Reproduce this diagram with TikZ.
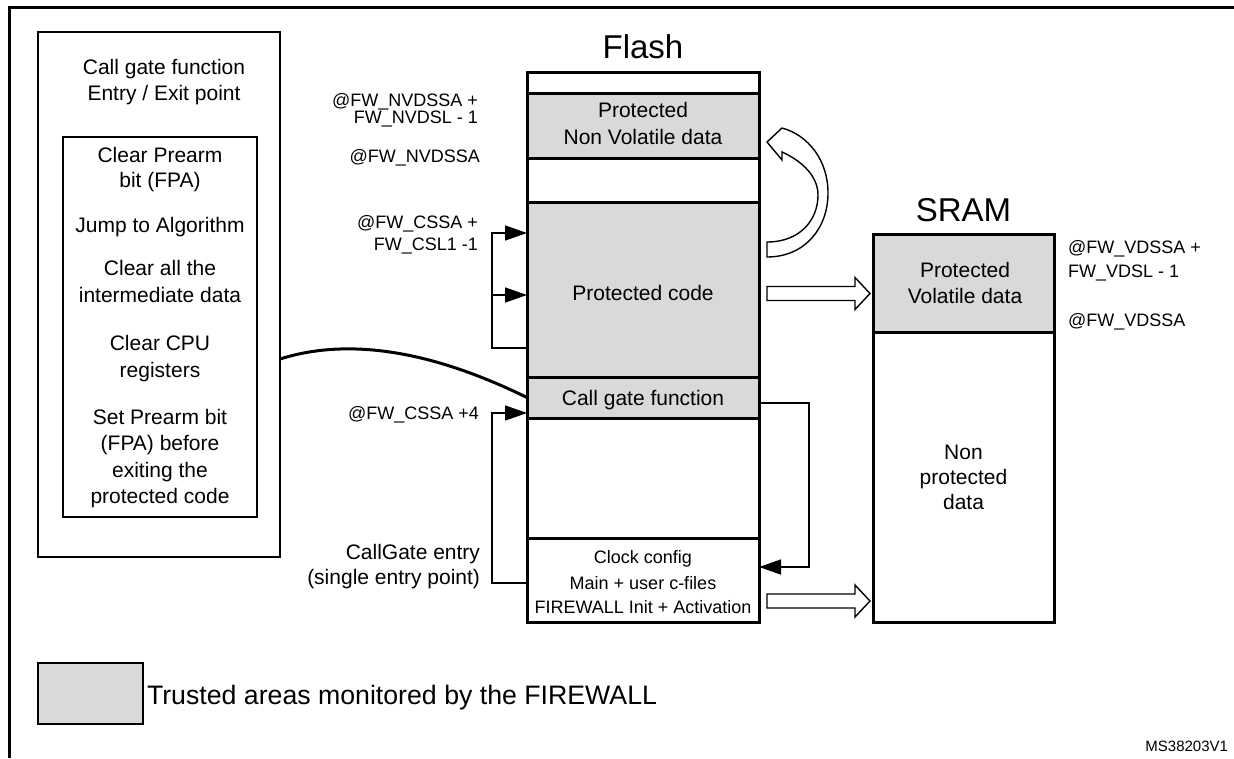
\documentclass[tikz,border=0pt]{standalone}
\usepackage{fontspec}
\setmainfont{Liberation Sans}
\usetikzlibrary{arrows.meta}

\definecolor{trust}{RGB}{217,217,217}

\begin{document}
\begin{tikzpicture}[x=1pt,y=-1pt,
  every node/.style={inner sep=0pt, outer sep=0pt},
  frame/.style={line width=3pt, line join=miter},
  fcell/.style={draw, line width=3pt, minimum width=232pt},
  scell/.style={draw, line width=3pt, minimum width=181pt},
  tr/.style={fill=trust},
  big/.style={anchor=base, font=\fontsize{33}{33}\selectfont},
  txt/.style={anchor=base, font=\fontsize{21}{21}\selectfont},
  small/.style={anchor=base, font=\fontsize{18}{18}\selectfont},
  addr/.style={anchor=base east, font=\fontsize{18}{18}\selectfont},
  addrl/.style={anchor=base west, font=\fontsize{18}{18}\selectfont},
  entry/.style={anchor=base east, font=\fontsize{21}{21}\selectfont},
  conn/.style={line width=1.5pt, -{Triangle[length=22pt,width=15pt]}},
  hollow/.style={draw, fill=white, line width=1.4pt, line join=miter},
  blockarrow/.pic={\path[hollow] (0,-7) -- (88,-7) -- (88,-16) -- (103,0)
      -- (88,16) -- (88,7) -- (0,7) -- cycle;}
]
\useasboundingbox (0,0) rectangle (1234,758);

% page frame (left and top rules)
\draw[frame] (9,758) -- (9,7.5) -- (1234,7.5);

% ---------- call gate description ----------
\node[draw, line width=2pt, minimum width=242pt, minimum height=525pt] (lbox) at (159,294.5) {};
\node[draw, line width=1.3pt, minimum width=194pt, minimum height=380pt] (ibox) at (160,327) {};
\node[txt] (lb1) at (164,74.5) {Call gate function};
\node[txt] (lb2) at (164,100.5) {Entry / Exit point};
\node[txt] (st1a) at (160,162.5) {Clear Prearm};
\node[txt] (st1b) at (160,187.5) {bit (FPA)};
\node[txt] (st2)  at (160,232.5) {Jump to Algorithm};
\node[txt] (st3a) at (160,275.5) {Clear all the};
\node[txt] (st3b) at (160,302.5) {intermediate data};
\node[txt] (st4a) at (160,350.5) {Clear CPU};
\node[txt] (st4b) at (160,377.5) {registers};
\node[txt] (st5a) at (160,424.5) {Set Prearm bit};
\node[txt] (st5b) at (160,450.5) {(FPA) before};
\node[txt] (st5c) at (160,477.5) {exiting the};
\node[txt] (st5d) at (160,503.5) {protected code};

% ---------- Flash ----------
\node[big] (ftitle) at (643,58) {Flash};
\node[fcell, minimum height=21pt]  (ftop)  at (643,82.5) {};
\node[fcell, tr, minimum height=65pt]  (nvd)   at (643,125.5) {};
\node[fcell, minimum height=44pt]  (fgap1) at (643,180) {};
\node[fcell, tr, minimum height=175pt] (pcode) at (643,289.5) {};
\node[fcell, tr, minimum height=41pt]  (cgf)   at (643,397.5) {};
\node[fcell, minimum height=120pt] (fgap2) at (643,478) {};
\node[fcell, minimum height=84pt]  (clk)   at (643,580) {};

\node[txt] (nvd1) at (643,117.5) {Protected};
\node[txt] (nvd2) at (643,144.5) {Non Volatile data};
\node[txt] (pc1)  at (643,300.5) {Protected code};
\node[txt] (cg1)  at (643,405.5) {Call gate function};
\node[small] (ck1) at (643,563.4) {Clock config};
\node[small] (ck2) at (643,589.4) {Main + user c-files};
\node[small] (ck3) at (643,613.4) {FIREWALL Init + Activation};

% address labels of the Flash
\node[addr] (a1) at (478,106) {@FW\_NVDSSA +};
\node[addr] (a2) at (478,123.5) {FW\_NVDSL - 1};
\node[addr] (a3) at (480,162) {@FW\_NVDSSA};
\node[addr] (a4) at (478,228.5) {@FW\_CSSA +};
\node[addr] (a5) at (478,250.5) {FW\_CSL1 -1};
\node[addr] (a6) at (479,419.4) {@FW\_CSSA +4};
\node[entry] (e1) at (480,559.4) {CallGate entry};
\node[entry] (e2) at (480,584.4) {(single entry point)};

% ---------- SRAM ----------
\node[big] (stitle) at (963.5,221) {SRAM};
\node[scell, tr, minimum height=98pt]  (pvd) at (963.5,283) {};
\node[scell, minimum height=290pt] (npd) at (963.5,477) {};
\node[txt] (pv1) at (965,277.5) {Protected};
\node[txt] (pv2) at (965,303.5) {Volatile data};
\node[txt] (np1) at (963.5,459.5) {Non};
\node[txt] (np2) at (963.5,484.5) {protected};
\node[txt] (np3) at (963.5,509.5) {data};
\node[addrl] (s1) at (1068,253.4) {@FW\_VDSSA +};
\node[addrl] (s2) at (1068,277.4) {FW\_VDSL - 1};
\node[addrl] (s3) at (1068,326.4) {@FW\_VDSSA};

% ---------- connectors ----------
% jumps inside the protected code
\coordinate (k1) at (492,348);
\coordinate (k2) at (492,233);
\coordinate (k3) at (492,295);
\draw[conn] (k1 -| pcode.west) -- (k1) -- (k2) -- (k2 -| pcode.west);
\draw[conn] (k3) -- (k3 -| pcode.west);

% single entry point into the call gate
\coordinate (k4) at (492,583);
\coordinate (k5) at (492,413);
\draw[conn] (k4 -| clk.west) -- (k4) -- (k5) -- (k5 -| cgf.west);

% return from the call gate
\coordinate (r1) at (809,403);
\coordinate (r2) at (809,567);
\draw[conn] (r1 -| cgf.east) -- (r1) -- (r2) -- (r2 -| clk.east);

% link between the description and the call gate
\coordinate (cv) at (0,359);
\draw[line width=3pt] (lbox.east |- cv) .. controls (340,340) and (420,345) .. (cgf.west);

% data accesses
\coordinate (ha) at (767,293.5);
\coordinate (hb) at (767,601);
\pic at (ha) {blockarrow};
\pic at (hb) {blockarrow};
\path[hollow] (767,257) .. controls (805,257) and (828,228) .. (828,193)
  .. controls (828,160) and (808,135) .. (782,128) -- (767,142) -- (782,160)
  -- (782,152) .. controls (800,160) and (818,175) .. (818,195)
  .. controls (818,220) and (800,242) .. (767,242) -- cycle;

% ---------- legend ----------
\node[draw, line width=2.5pt, tr, minimum width=105pt, minimum height=61pt] (leg) at (90.5,693.5) {};
\node[anchor=base west, font=\fontsize{26.7}{26.7}\selectfont] (legt) at (147,704.5) {Trusted areas monitored by the FIREWALL};
\node[anchor=base east, font=\fontsize{15}{15}\selectfont] (ref) at (1228,751.4) {MS38203V1};
\end{tikzpicture}
\end{document}
